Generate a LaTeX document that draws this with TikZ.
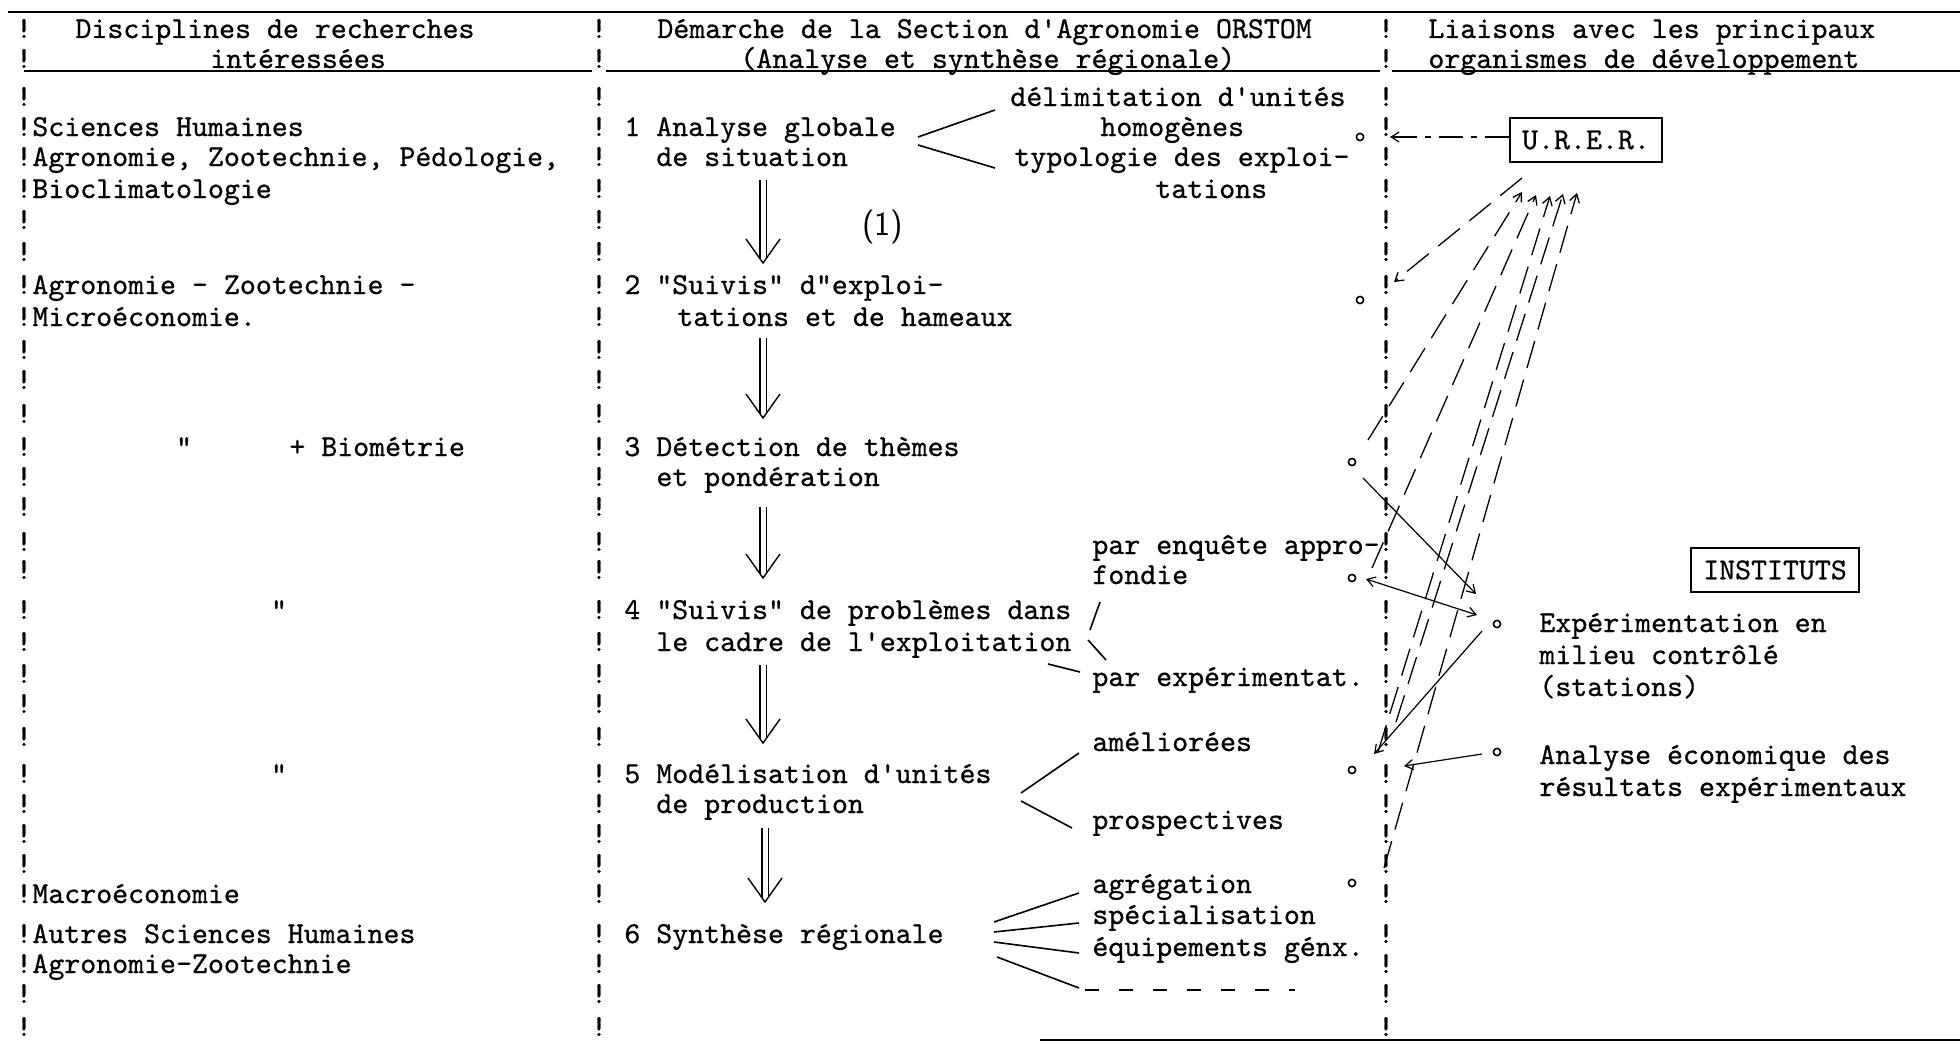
\documentclass[tikz,border=0pt]{standalone}
\usepackage{fontspec}
\setmonofont{lmmono10-regular.otf}[FakeBold=0.7]
\usetikzlibrary{arrows.meta}
\newcommand\Tx[4]{\node[txt] (#1) at (#2,#3+6) {#4};}
\newcommand\Dbl[4]{%
  \coordinate (#1t) at (#2,#3); \coordinate (#1b) at (#2,#4);
  \draw[dbl] ([xshift=-1.6pt]#1t) -- ([xshift=-1.6pt,yshift=2pt]#1b);
  \draw[dbl] ([xshift=1.6pt]#1t) -- ([xshift=1.6pt,yshift=2pt]#1b);
  \draw[dbl] ([xshift=-8.5pt,yshift=12pt]#1b) -- (#1b) -- ([xshift=8.5pt,yshift=12pt]#1b);}
\begin{document}
\begin{tikzpicture}[x=0.5pt,y=-0.5pt,
  txt/.style={font=\ttfamily\fontsize{15.2}{18}\selectfont, inner sep=0pt, anchor=base west},
  txtc/.style={txt, anchor=base},
  bang/.style={txt, anchor=base},
  rule/.style={line width=1.1pt},
  branch/.style={line width=0.8pt},
  dot/.style={circle, draw, inner sep=0pt, minimum size=3.6pt, line width=0.8pt},
  box/.style={draw, line width=0.7pt, font=\ttfamily\fontsize{15.2}{18}\selectfont, inner sep=0pt, minimum height=22pt},
  tip/.style={-{Straight Barb[length=4pt,width=5pt]}},
  conn/.style={line width=0.6pt},
  fan/.style={line width=0.65pt, dash pattern=on 14pt off 6pt},
  dbl/.style={line width=0.7pt}
]
\path[use as bounding box, fill=white] (0,0) rectangle (1960,1044);

% table rules
\coordinate (tl) at (8,12); \coordinate (tr) at (1960,12);
\draw[rule] (tl) -- (tr);
\coordinate (u1a) at (24,71); \coordinate (u1b) at (592,71);
\coordinate (u2a) at (606,71); \coordinate (u2b) at (1380,71);
\coordinate (u3a) at (1392,71); \coordinate (u3b) at (1960,71);
\draw[line width=1pt] (u1a) -- (u1b) (u2a) -- (u2b) (u3a) -- (u3b);
\coordinate (bla) at (1040,1040); \coordinate (blb) at (1960,1040);
\draw[rule] (bla) -- (blb);

% column separators made of "!"
\foreach \r [count=\i] in {32,62,100,130,160,192,223,255,288,320,353,383,417,450,480,510,545,573,613,645,677,707,740,777,807,837,867,897,937,967,997,1030} {
  \node[bang] (bl\i) at (24,\r+6) {!};
  \node[bang] (bm\i) at (599,\r+6) {!};
  \node[bang] (br\i) at (1386,\r+6) {!};
}

% headers
\node[txtc] (h1a) at (275,38) {Disciplines de recherches};
\node[txtc] (h1b) at (298,68) {intéressées};
\Tx{h2a}{657}{32}{Démarche de la Section d'Agronomie ORSTOM}
\Tx{h2b}{740}{62}{(Analyse et synthèse régionale)}
\Tx{h3a}{1428}{32}{Liaisons avec les principaux}
\Tx{h3b}{1428}{62}{organismes de développement}

% left column
\Tx{l1}{32}{130}{Sciences Humaines}
\Tx{l2}{32}{160}{Agronomie, Zootechnie, Pédologie,}
\Tx{l3}{32}{192}{Bioclimatologie}
\Tx{l4}{32}{288}{Agronomie - Zootechnie -}
\Tx{l5}{32}{320}{Microéconomie.}
\node[txtc] (l6q) at (184,456) {"};
\Tx{l6}{289}{450}{+ Biométrie}
\node[txtc] (l7) at (279,619) {"};
\node[txtc] (l8) at (279,783) {"};
\Tx{l9}{32}{897}{Macroéconomie}
\Tx{l10}{32}{937}{Autres Sciences Humaines}
\Tx{l11}{32}{967}{Agronomie-Zootechnie}

% middle column: steps
\Tx{s1}{624}{130}{1 Analyse globale}
\Tx{s1b}{656}{160}{de situation}
\Tx{s2}{624}{288}{2 "Suivis" d"exploi-}
\Tx{s2b}{677}{320}{tations et de hameaux}
\Tx{s3}{624}{450}{3 Détection de thèmes}
\Tx{s3b}{656}{480}{et pondération}
\Tx{s4}{624}{613}{4 "Suivis" de problèmes dans}
\Tx{s4b}{656}{645}{le cadre de l'exploitation}
\Tx{s5}{624}{777}{5 Modélisation d'unités}
\Tx{s5b}{656}{807}{de production}
\Tx{s6}{624}{937}{6 Synthèse régionale}
\node[txt, font=\sffamily\fontsize{17}{20}\selectfont] (n1) at (862,235) {(1)};

% middle column: sub-items
\Tx{a1}{1010}{100}{délimitation d'unités}
\Tx{a1b}{1100}{130}{homogènes}
\Tx{a2}{1014}{160}{typologie des exploi-}
\Tx{a2b}{1155}{192}{tations}
\Tx{d1}{1092}{548}{par enquête appro-}
\Tx{d1b}{1092}{578}{fondie}
\Tx{d2}{1092}{680}{par expérimentat.}
\Tx{e1}{1092}{745}{améliorées}
\Tx{e2}{1092}{823}{prospectives}
\Tx{f1}{1092}{887}{agrégation}
\Tx{f2}{1092}{918}{spécialisation}
\Tx{f3}{1092}{950}{équipements génx.}
\coordinate (f4a) at (1085,990); \coordinate (f4b) at (1295,990);
\draw[line width=0.8pt, dash pattern=on 7pt off 10pt] (f4a) -- (f4b);

% branches
\coordinate (b1o) at (918,141);
\coordinate (b1u) at (995,110); \coordinate (b1d) at (995,168);
\draw[branch] ([yshift=2pt]b1o) -- (b1u);
\draw[branch] ([yshift=-2pt]b1o) -- (b1d);
\coordinate (b4a1) at (1090,630); \coordinate (b4a2) at (1100,602);
\coordinate (b4b1) at (1088,640); \coordinate (b4b2) at (1106,660);
\coordinate (b4c1) at (1048,664); \coordinate (b4c2) at (1080,672);
\draw[branch] (b4a1) -- (b4a2) (b4b1) -- (b4b2) (b4c1) -- (b4c2);
\coordinate (b5o) at (1021,797);
\coordinate (b5u) at (1079,753); \coordinate (b5d) at (1072,828);
\draw[branch] ([yshift=2pt]b5o) -- (b5u);
\draw[branch] ([yshift=-2pt]b5o) -- (b5d);
\coordinate (b6a) at (1079,893); \coordinate (b6b) at (1079,923);
\coordinate (b6c) at (1079,953); \coordinate (b6d) at (1079,988);
\draw[branch] (994,922) -- (b6a);
\draw[branch] (994,932) -- (b6b);
\draw[branch] (994,942) -- (b6c);
\draw[branch] (997,957) -- (b6d);

% double arrows between steps
\Dbl{A12}{763}{180}{263}
\Dbl{A23}{763}{338}{418}
\Dbl{A34}{763}{507}{578}
\Dbl{A45}{763}{665}{743}
\Dbl{A56}{765}{828}{902}

% small circles next to the middle separator
\node[dot] (c1) at (1360,137) {};
\node[dot] (c2) at (1360,300) {};
\node[dot] (c3) at (1352,462) {};
\node[dot] (c4) at (1352,578) {};
\node[dot] (c5) at (1352,770) {};
\node[dot] (c6) at (1352,883) {};

% right column
\node[box, minimum width=76pt] (urer) at (1586,140) {U.R.E.R.};
\node[box, minimum width=84pt] (inst) at (1775,570) {INSTITUTS};
\node[dot] (ex) at (1497,624) {};
\Tx{ex1}{1539}{626}{Expérimentation en}
\Tx{ex2}{1539}{658}{milieu contrôlé}
\Tx{ex3}{1539}{690}{(stations)}
\node[dot] (an) at (1497,752) {};
\Tx{an1}{1539}{758}{Analyse économique des}
\Tx{an2}{1539}{790}{résultats expérimentaux}

% U.R.E.R. links
\coordinate (k1) at (1390,137);
\draw[conn, tip, dash pattern=on 12pt off 4pt on 3pt off 4pt] (urer.west |- k1) -- (k1);
\coordinate (k2s) at (1522,178); \coordinate (k2e) at (1394,282);
\draw[fan, tip] (k2s) -- (k2e);
\coordinate (g1) at (1368,440); \coordinate (h1) at (1522,192);
\coordinate (g2) at (1372,568); \coordinate (h2) at (1536,195);
\coordinate (g3) at (1378,752); \coordinate (h3) at (1550,196);
\coordinate (g4) at (1396,722); \coordinate (h4) at (1563,194);
\coordinate (g5) at (1384,868); \coordinate (h5) at (1577,193);
\draw[fan, tip] (g1) -- (h1);
\draw[fan, tip] (g2) -- (h2);
\draw[fan, tip] (g3) -- (h3);
\draw[fan, tip] (g4) -- (h4);
\draw[fan, tip] (g5) -- (h5);

% INSTITUTS links
\coordinate (m1a) at (1363,478); \coordinate (m1b) at (1476,594);
\draw[conn, tip] (m1a) -- (m1b);
\coordinate (m2a) at (1366,579); \coordinate (m2b) at (1477,615);
\draw[conn, {Straight Barb[length=4pt,width=5pt]}-{Straight Barb[length=4pt,width=5pt]}] (m2a) -- (m2b);
\coordinate (m3a) at (1482,631); \coordinate (m3b) at (1374,754);
\draw[conn, tip] (m3a) -- (m3b);
\coordinate (m4a) at (1482,754); \coordinate (m4b) at (1404,766);
\draw[conn, tip] (m4a) -- (m4b);
\end{tikzpicture}
\end{document}
